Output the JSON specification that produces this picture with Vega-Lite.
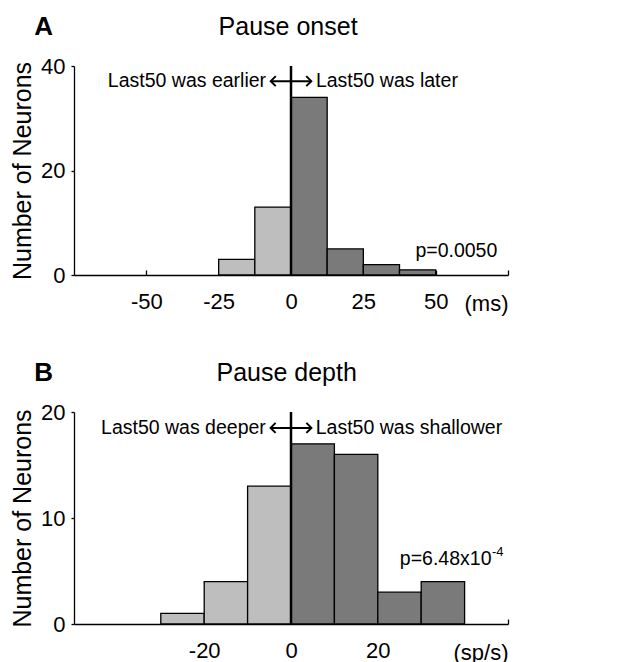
{
  "$schema": "https://vega.github.io/schema/vega-lite/v6.json",
  "padding": {"left": 10, "top": 14, "right": 5, "bottom": 5},
  "background": "white",
  "config": {
    "font": "Liberation Sans",
    "view": {"stroke": null},
    "axis": {
      "grid": false,
      "domainColor": "black",
      "domainWidth": 1.3,
      "tickColor": "black",
      "tickWidth": 1.3,
      "labelColor": "black",
      "labelFontSize": 22,
      "labelFont": "Liberation Sans",
      "titleColor": "black",
      "titleFont": "Liberation Sans",
      "titleFontWeight": "normal"
    }
  },
  "datasets": {
    "onset": [
      {"lo": -25, "hi": -12.5, "n": 3, "side": "earlier"},
      {"lo": -12.5, "hi": 0, "n": 13, "side": "earlier"},
      {"lo": 0, "hi": 12.5, "n": 34, "side": "later"},
      {"lo": 12.5, "hi": 25, "n": 5, "side": "later"},
      {"lo": 25, "hi": 37.5, "n": 2, "side": "later"},
      {"lo": 37.5, "hi": 50, "n": 1, "side": "later"}
    ],
    "depth": [
      {"lo": -30, "hi": -20, "n": 1, "side": "earlier"},
      {"lo": -20, "hi": -10, "n": 4, "side": "earlier"},
      {"lo": -10, "hi": 0, "n": 13, "side": "earlier"},
      {"lo": 0, "hi": 10, "n": 17, "side": "later"},
      {"lo": 10, "hi": 20, "n": 16, "side": "later"},
      {"lo": 20, "hi": 30, "n": 3, "side": "later"},
      {"lo": 30, "hi": 40, "n": 4, "side": "later"}
    ]
  },
  "spacing": 45,
  "vconcat": [
    {
      "width": 434,
      "height": 209,
      "layer": [
        {
          "data": {"name": "onset"},
          "mark": {"type": "rect", "stroke": "black", "strokeWidth": 1.3},
          "encoding": {
            "x": {
              "field": "lo", "type": "quantitative",
              "scale": {"domain": [-75, 75], "nice": false, "zero": false},
              "axis": {
                "values": [-50, -25, 0, 25, 50, 75],
                "labelExpr": "datum.value == 75 ? '' : toString(datum.value)",
                "tickSize": -5,
                "labelPadding": 21,
                "title": "(ms)",
                "titleFontSize": 22,
                "titleAnchor": "end",
                "titleBaseline": "middle",
                "titleY": 28
              }
            },
            "x2": {"field": "hi"},
            "y": {
              "field": "n", "type": "quantitative",
              "scale": {"domain": [0, 40], "nice": false},
              "axis": {
                "values": [0, 20, 40],
                "tickSize": 3,
                "labelPadding": 6,
                "title": "Number of Neurons",
                "titleFontSize": 25,
                "titlePadding": 5
              }
            },
            "y2": {"datum": 0},
            "fill": {
              "field": "side", "type": "nominal",
              "scale": {"domain": ["earlier", "later"], "range": ["#bebebe", "#7a7a7a"]},
              "legend": null
            }
          }
        },
        {
          "data": {"values": [{"x": 0, "y0": 0, "y1": 40}]},
          "mark": {"type": "rule", "strokeWidth": 2.5, "color": "black"},
          "encoding": {
            "x": {"field": "x", "type": "quantitative"},
            "y": {"field": "y0", "type": "quantitative"},
            "y2": {"field": "y1"}
          }
        },
        {
          "data": {"values": [{"x0": -7, "x1": 7, "y": 37.1}]},
          "mark": {"type": "rule", "strokeWidth": 2, "color": "black"},
          "encoding": {
            "x": {"field": "x0", "type": "quantitative"},
            "x2": {"field": "x1"},
            "y": {"field": "y", "type": "quantitative"}
          }
        },
        {
          "data": {"values": [{"x": -7, "y": 37.1}]},
          "mark": {"type": "point", "shape": "M1,-1L0,0L1,1", "filled": false, "stroke": "black", "strokeWidth": 2, "size": 100, "opacity": 1},
          "encoding": {
            "x": {"field": "x", "type": "quantitative"},
            "y": {"field": "y", "type": "quantitative"}
          }
        },
        {
          "data": {"values": [{"x": 7, "y": 37.1}]},
          "mark": {"type": "point", "shape": "M-1,-1L0,0L-1,1", "filled": false, "stroke": "black", "strokeWidth": 2, "size": 100, "opacity": 1},
          "encoding": {
            "x": {"field": "x", "type": "quantitative"},
            "y": {"field": "y", "type": "quantitative"}
          }
        },
        {
          "data": {"values": [{"x": -8.6, "y": 37.1, "t": "Last50 was earlier"}]},
          "mark": {"type": "text", "align": "right", "baseline": "middle", "fontSize": 19.5, "color": "black"},
          "encoding": {
            "x": {"field": "x", "type": "quantitative"},
            "y": {"field": "y", "type": "quantitative"},
            "text": {"field": "t"}
          }
        },
        {
          "data": {"values": [{"x": 8.6, "y": 37.1, "t": "Last50 was later"}, {"x": 43, "y": 4.6, "t": "p=0.0050"}]},
          "mark": {"type": "text", "align": "left", "baseline": "middle", "fontSize": 19.5, "color": "black"},
          "encoding": {
            "x": {"field": "x", "type": "quantitative"},
            "y": {"field": "y", "type": "quantitative"},
            "text": {"field": "t"}
          }
        },
        {
          "data": {"values": [{"x": -1, "y": 47.4, "t": "Pause onset"}]},
          "mark": {"type": "text", "align": "center", "baseline": "middle", "fontSize": 25, "color": "black"},
          "encoding": {
            "x": {"field": "x", "type": "quantitative"},
            "y": {"field": "y", "type": "quantitative"},
            "text": {"field": "t"}
          }
        },
        {
          "data": {"values": [{"x": -85.5, "y": 47.4, "t": "A"}]},
          "mark": {"type": "text", "align": "center", "baseline": "middle", "fontSize": 26, "fontWeight": "bold", "color": "black"},
          "encoding": {
            "x": {"field": "x", "type": "quantitative"},
            "y": {"field": "y", "type": "quantitative"},
            "text": {"field": "t"}
          }
        }
      ]
    },
    {
      "width": 434,
      "height": 212,
      "layer": [
        {
          "data": {"name": "depth"},
          "mark": {"type": "rect", "stroke": "black", "strokeWidth": 1.3},
          "encoding": {
            "x": {
              "field": "lo", "type": "quantitative",
              "scale": {"domain": [-50, 50], "nice": false, "zero": false},
              "axis": {
                "values": [-20, 0, 20, 50],
                "labelExpr": "datum.value == 50 ? '' : toString(datum.value)",
                "tickSize": -5,
                "labelPadding": 21,
                "title": "(sp/s)",
                "titleFontSize": 22,
                "titleAnchor": "end",
                "titleBaseline": "middle",
                "titleY": 28
              }
            },
            "x2": {"field": "hi"},
            "y": {
              "field": "n", "type": "quantitative",
              "scale": {"domain": [0, 20], "nice": false},
              "axis": {
                "values": [0, 10, 20],
                "tickSize": 3,
                "labelPadding": 6,
                "title": "Number of Neurons",
                "titleFontSize": 25,
                "titlePadding": 5
              }
            },
            "y2": {"datum": 0},
            "fill": {
              "field": "side", "type": "nominal",
              "scale": {"domain": ["earlier", "later"], "range": ["#bebebe", "#7a7a7a"]},
              "legend": null
            }
          }
        },
        {
          "data": {"values": [{"x": 0, "y0": 0, "y1": 20}]},
          "mark": {"type": "rule", "strokeWidth": 2.5, "color": "black"},
          "encoding": {
            "x": {"field": "x", "type": "quantitative"},
            "y": {"field": "y0", "type": "quantitative"},
            "y2": {"field": "y1"}
          }
        },
        {
          "data": {"values": [{"x0": -4.7, "x1": 4.7, "y": 18.5}]},
          "mark": {"type": "rule", "strokeWidth": 2, "color": "black"},
          "encoding": {
            "x": {"field": "x0", "type": "quantitative"},
            "x2": {"field": "x1"},
            "y": {"field": "y", "type": "quantitative"}
          }
        },
        {
          "data": {"values": [{"x": -4.7, "y": 18.5}]},
          "mark": {"type": "point", "shape": "M1,-1L0,0L1,1", "filled": false, "stroke": "black", "strokeWidth": 2, "size": 100, "opacity": 1},
          "encoding": {
            "x": {"field": "x", "type": "quantitative"},
            "y": {"field": "y", "type": "quantitative"}
          }
        },
        {
          "data": {"values": [{"x": 4.7, "y": 18.5}]},
          "mark": {"type": "point", "shape": "M-1,-1L0,0L-1,1", "filled": false, "stroke": "black", "strokeWidth": 2, "size": 100, "opacity": 1},
          "encoding": {
            "x": {"field": "x", "type": "quantitative"},
            "y": {"field": "y", "type": "quantitative"}
          }
        },
        {
          "data": {"values": [{"x": -5.8, "y": 18.5, "t": "Last50 was deeper"}, {"x": 46.2, "y": 6.1, "t": "p=6.48x10"}]},
          "mark": {"type": "text", "align": "right", "baseline": "middle", "fontSize": 19.5, "color": "black"},
          "encoding": {
            "x": {"field": "x", "type": "quantitative"},
            "y": {"field": "y", "type": "quantitative"},
            "text": {"field": "t"}
          }
        },
        {
          "data": {"values": [{"x": 5.7, "y": 18.5, "t": "Last50 was shallower"}]},
          "mark": {"type": "text", "align": "left", "baseline": "middle", "fontSize": 19.5, "color": "black"},
          "encoding": {
            "x": {"field": "x", "type": "quantitative"},
            "y": {"field": "y", "type": "quantitative"},
            "text": {"field": "t"}
          }
        },
        {
          "data": {"values": [{"x": 46.3, "y": 6.8, "t": "-4"}]},
          "mark": {"type": "text", "align": "left", "baseline": "middle", "fontSize": 13, "color": "black"},
          "encoding": {
            "x": {"field": "x", "type": "quantitative"},
            "y": {"field": "y", "type": "quantitative"},
            "text": {"field": "t"}
          }
        },
        {
          "data": {"values": [{"x": -1, "y": 23.7, "t": "Pause depth"}]},
          "mark": {"type": "text", "align": "center", "baseline": "middle", "fontSize": 25, "color": "black"},
          "encoding": {
            "x": {"field": "x", "type": "quantitative"},
            "y": {"field": "y", "type": "quantitative"},
            "text": {"field": "t"}
          }
        },
        {
          "data": {"values": [{"x": -57, "y": 23.7, "t": "B"}]},
          "mark": {"type": "text", "align": "center", "baseline": "middle", "fontSize": 26, "fontWeight": "bold", "color": "black"},
          "encoding": {
            "x": {"field": "x", "type": "quantitative"},
            "y": {"field": "y", "type": "quantitative"},
            "text": {"field": "t"}
          }
        }
      ]
    }
  ]
}
